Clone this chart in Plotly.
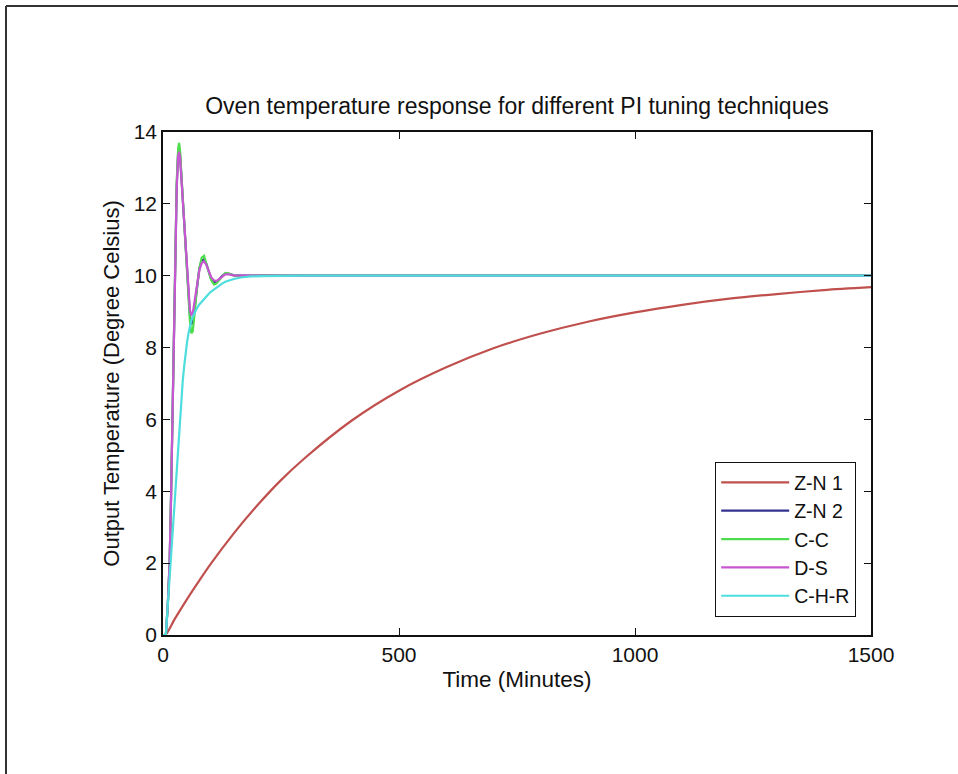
import plotly.graph_objects as go

# ---- data ----
t_slow = [0, 5, 25, 50, 75, 100, 150, 200, 250, 300, 400, 500, 600, 700, 800,
          900, 1000, 1100, 1200, 1300, 1400, 1500]
zn1 = [0, 0, 0.45, 0.98, 1.48, 1.96, 2.83, 3.61, 4.31, 4.92, 5.97, 6.80, 7.45,
       7.98, 8.39, 8.72, 8.98, 9.19, 9.36, 9.49, 9.60, 9.68]

t_fast = [0, 6, 10, 14, 17, 20, 23, 26, 29, 32,
          34, 36, 39, 42, 45, 48, 51, 54, 57, 60,
          63, 67, 72, 77, 82, 87, 92, 97, 102, 108,
          113, 118, 125, 132, 140, 150, 165, 185, 210, 250,
          300, 400, 500, 600, 700, 800, 900, 1000, 1100, 1200, 1300, 1400, 1500]

zn2 = [0, 0, 0.8, 2.0, 3.8, 6.15, 8.7, 10.9, 12.5, 13.4,
       13.55, 13.4, 12.75, 12.0, 11.3, 10.6, 10.0, 9.4, 8.9, 8.65,
       8.7, 9.1, 9.75, 10.2, 10.42, 10.45, 10.32, 10.1, 9.92, 9.82,
       9.82, 9.88, 9.99, 10.06, 10.05, 10.01, 10.0, 10.0, 10.0, 10.0,
       10, 10, 10, 10, 10, 10, 10, 10, 10, 10, 10, 10, 10]

cc = [0, 0, 0.8, 2.0, 3.8, 6.2, 8.8, 11.0, 12.6, 13.5,
      13.7, 13.5, 12.8, 12.0, 11.3, 10.6, 10.0, 9.3, 8.75, 8.4,
      8.45, 8.95, 9.7, 10.2, 10.5, 10.55, 10.35, 10.1, 9.88, 9.76,
      9.78, 9.86, 10.0, 10.08, 10.06, 10.01, 9.99, 10.0, 10.0, 10.0,
      10, 10, 10, 10, 10, 10, 10, 10, 10, 10, 10, 10, 10]

ds = [0, 0, 0.8, 2.0, 3.8, 6.1, 8.6, 10.8, 12.4, 13.3,
      13.45, 13.3, 12.7, 12.0, 11.3, 10.6, 10.0, 9.45, 9.05, 8.9,
      8.95, 9.3, 9.8, 10.15, 10.35, 10.4, 10.3, 10.12, 9.96, 9.87,
      9.85, 9.9, 9.98, 10.04, 10.04, 10.01, 10.0, 10.0, 10.0, 10.0,
      10, 10, 10, 10, 10, 10, 10, 10, 10, 10, 10, 10, 10]

chr_ = [0, 0, 0.8, 1.6, 2.2, 2.8, 3.4, 4.1, 4.7, 5.4,
        5.8, 6.1, 6.6, 7.1, 7.5, 7.9, 8.15, 8.4, 8.6, 8.75,
        8.85, 8.98, 9.1, 9.2, 9.28, 9.36, 9.43, 9.5, 9.56, 9.62,
        9.67, 9.72, 9.78, 9.83, 9.87, 9.91, 9.95, 9.98, 9.99, 10.0,
        10, 10, 10, 10, 10, 10, 10, 10, 10, 10, 10, 10, 10]

names = ["Z-N 1", "Z-N 2", "C-C", "D-S", "C-H-R"]
colors = ["#c0504d", "#33338f", "#4cdc4c", "#c855d2", "#4ddddd"]

x_ticks = [0, 500, 1000, 1500]
y_ticks = [0, 2, 4, 6, 8, 10, 12, 14]

FONT = "Liberation Sans, Arial, sans-serif"

fig = go.Figure()
fig.add_trace(go.Scatter(x=t_slow, y=zn1, mode="lines", name=names[0],
                         line=dict(color=colors[0], width=2.2, shape="spline", smoothing=0.8)))
for name, ys, col in zip(names[1:], [zn2, cc, ds, chr_], colors[1:]):
    fig.add_trace(go.Scatter(x=t_fast, y=ys, mode="lines", name=name,
                             line=dict(color=col, width=2.2)))

W, H = 958, 774
L, R, T, B = 163, 871, 132, 635

axis_common = dict(showline=True, linecolor="#111", linewidth=1.5, mirror="ticks",
                   ticks="inside", ticklen=7, tickwidth=1.2, tickcolor="#111",
                   showgrid=False, zeroline=False,
                   tickfont=dict(family=FONT, size=21, color="#111"))

fig.update_layout(
    width=W, height=H,
    margin=dict(l=L, r=W - R, t=T, b=H - B),
    paper_bgcolor="white", plot_bgcolor="white",
    title=dict(text="Oven temperature response for different PI tuning techniques",
               x=(L + R) / 2 / W, xanchor="center", y=1 - 106 / H, yanchor="middle",
               font=dict(family=FONT, size=23, color="#111")),
    xaxis=dict(range=[0, 1500], tickvals=x_ticks, **axis_common,
               title=dict(text="Time (Minutes)", standoff=6,
                          font=dict(family=FONT, size=22.5, color="#111"))),
    yaxis=dict(range=[0, 14], tickvals=y_ticks, **axis_common,
               title=dict(text="Output Temperature (Degree Celsius)", standoff=8,
                          font=dict(family=FONT, size=22, color="#111"))),
    legend=dict(x=(856 - L) / (R - L), y=(B - 617) / (B - T), xanchor="right", yanchor="bottom",
                bgcolor="white", bordercolor="#111", borderwidth=1.2,
                font=dict(family=FONT, size=19.5, color="#111"),
                itemwidth=68, tracegroupgap=0),
    showlegend=True,
)

# outer frame lines of the picture (top and left edges)
fig.add_shape(type="line", xref="paper", yref="paper",
              x0=(6 - L) / (R - L), x1=(W - L) / (R - L),
              y0=(B - 6) / (B - T), y1=(B - 6) / (B - T),
              line=dict(color="#333", width=2))
fig.add_shape(type="line", xref="paper", yref="paper",
              x0=(6 - L) / (R - L), x1=(6 - L) / (R - L),
              y0=(B - 6) / (B - T), y1=(B - H) / (B - T),
              line=dict(color="#333", width=2))

fig.write_html("out.html", config={"displayModeBar": False},
               post_script="document.body.style.margin='0';document.body.style.overflow='hidden';")
